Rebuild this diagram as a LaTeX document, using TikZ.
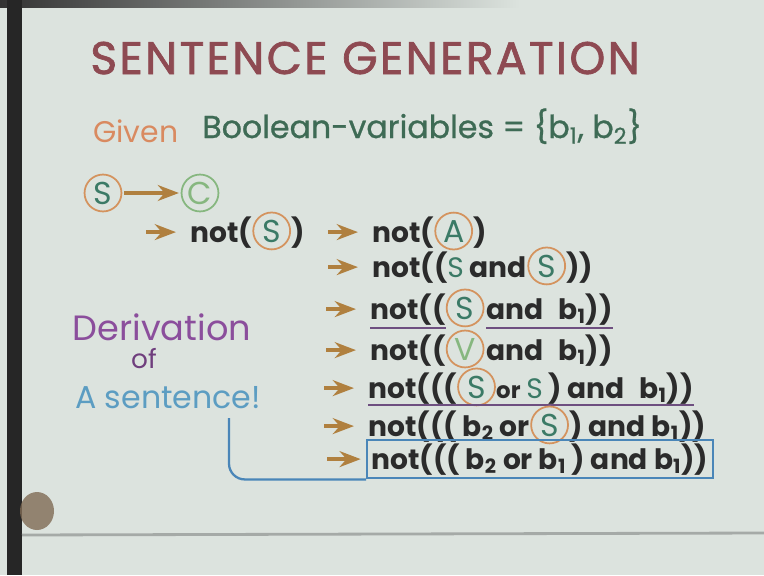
\documentclass[tikz,border=0pt]{standalone}
\usepackage{fontspec}
\setmainfont{Poppins}
\usetikzlibrary{arrows.meta, positioning}
\definecolor{board}{HTML}{DCE3DE}
\definecolor{titlered}{HTML}{8E4A52}
\definecolor{givenorange}{HTML}{D98A60}
\definecolor{boolgreen}{HTML}{3E6B55}
\definecolor{ring}{HTML}{D4935E}
\definecolor{varteal}{HTML}{3B7A66}
\definecolor{lightgreen}{HTML}{86B77F}
\definecolor{arrowbrown}{HTML}{B0803F}
\definecolor{ink}{HTML}{2B2B2B}
\definecolor{underpurple}{HTML}{6E4F80}
\definecolor{derivpurple}{HTML}{8B4E9C}
\definecolor{sentblue}{HTML}{5C9DC2}
\definecolor{boxblue}{HTML}{4A86B8}
\newcommand{\fs}[1]{\fontsize{#1}{#1}\selectfont}
\newcommand{\bsub}[1]{b\textsubscript{#1}}
\newcommand{\tvar}[1]{\textcolor{varteal}{\mdseries #1}}

\begin{document}
\begin{tikzpicture}[
	x=0.02cm, y=-0.02cm,
	>=Stealth,
	heading/.style={anchor=base west, inner sep=0pt, text=titlered,
		font=\fs{26}\addfontfeature{LetterSpace=5, FakeBold=1.5}},
	handtext/.style={anchor=base west, inner sep=0pt, font=\fs{18}\addfontfeature{FakeBold=0.8}},
	row/.style={anchor=base west, inner sep=0pt, text=ink, font=\fs{16}\bfseries},
	varring/.style={circle, draw=ring, line width=1pt, minimum size=21pt, inner sep=0pt,
		text=varteal, font=\fs{18}},
	derive/.style={->, arrowbrown, line width=2pt, shorten >=8pt},
	uline/.style={underpurple, line width=1.2pt},
	remark/.style={anchor=base, inner sep=0pt, font=\fs{19}\addfontfeature{FakeBold=0.8}},
	link/.style={boxblue, line width=1.3pt, rounded corners=9pt}
	]
	
	% ==========================================
	% THE BOARD
	% ==========================================
	\useasboundingbox (0,0) rectangle (764,575);
	\fill[board] (0,0) rectangle (764,575);
	\shade[left color=black!80, right color=board] (0,0) rectangle (520,7);
	\fill[black!85] (7,0) rectangle (22,575);
	\draw[line width=1.6pt, black!25!board] (22,535) -- (764,533);
	% thumb at the edge of the board
	\fill[brown!45!black!75, opacity=.8] (37,511) ellipse (17 and 19);
	
	% ==========================================
	% TITLE AND GIVEN VARIABLES
	% ==========================================
	\node[heading] (title) at (90,74) {SENTENCE GENERATION};
	\node[handtext, text=givenorange, font=\fs{17}] (given) at (93,142) {Given};
	\node[handtext, text=boolgreen] (vars) at (202,138)
	{Boolean-variables = \{\bsub{1}, \bsub{2}\}};
	
	% ==========================================
	% FIRST PRODUCTIONS
	% ==========================================
	\node[varring] (startS) at (103,193) {S};
	\node[varring, draw=lightgreen, text=lightgreen] (startC) at (200,193) {C};
	\draw[derive, shorten >=1pt, shorten <=1pt] (startS) -- (startC);
	
	% S -> not(S)
	\node[row] (r0a) at (190,242) {not(};
	\node[varring, base right=0pt of r0a] (r0b) {S};
	\node[row, base right=0pt of r0b] (r0c) {)};
	\coordinate[left=25pt of r0a.west] (a0);
	\draw[derive] (a0) -- (r0a.west);
	
	% not(S) -> not(A)
	\node[row] (r1a) at (372,242) {not(};
	\node[varring, text=varteal, base right=0pt of r1a] (r1b) {A};
	\node[row, base right=0pt of r1b] (r1c) {)};
	\draw[derive, shorten <=13pt] (r0c) -- (r1a);
	
	% ==========================================
	% DERIVATION STEPS
	% ==========================================
	
	% not((S and S))
	\node[row] (r2a) at (372,277) {not((\tvar{S} and};
	\node[varring, base right=0pt of r2a] (r2b) {S};
	\node[row, base right=0pt of r2b] (r2c) {))};
	\coordinate[left=25pt of r2a.west] (a2);
	\draw[derive] (a2) -- (r2a.west);
	
	% not((S and b1))
	\node[row] (r3a) at (370,319) {not((};
	\node[varring, base right=0pt of r3a] (r3b) {S};
	\node[row, base right=1pt of r3b] (r3c) {and\hspace{5pt} \bsub{1}))};
	\coordinate[left=25pt of r3a.west] (a3);
	\draw[derive] (a3) -- (r3a.west);
	\draw[uline] ([yshift=-5pt]r3a.base west) -- ([yshift=-5pt]r3a.base east);
	\draw[uline] ([yshift=-5pt]r3c.base west) -- ([yshift=-5pt]r3c.base east);
	
	% not((V and b1))
	\node[row] (r4a) at (370,360) {not((};
	\node[varring, text=lightgreen, base right=0pt of r4a] (r4b) {V};
	\node[row, base right=1pt of r4b] (r4c) {and\hspace{5pt} \bsub{1}))};
	\coordinate[left=25pt of r4a.west] (a4);
	\draw[derive] (a4) -- (r4a.west);
	
	% not(((S or S) and b1))
	\node[row] (r5a) at (368,398) {not(((};
	\node[varring, base right=0pt of r5a] (r5b) {S};
	\node[row, base right=0pt of r5b] (r5c) {{\fs{13}or} \tvar{S}\hspace{3pt}) and\hspace{5pt} \bsub{1}))};
	\coordinate[left=25pt of r5a.west] (a5);
	\draw[derive] (a5) -- (r5a.west);
	\draw[uline] ([yshift=-4pt]r5a.base west) -- ([yshift=-4pt]r5c.base east);
	
	% not(((b2 or S) and b1))
	\node[row] (r6a) at (368,436) {not((( \bsub{2} or};
	\node[varring, base right=0pt of r6a] (r6b) {S};
	\node[row, base right=0pt of r6b] (r6c) {) and \bsub{1}))};
	\coordinate[left=25pt of r6a.west] (a6);
	\draw[derive] (a6) -- (r6a.west);
	
	% the sentence, boxed
	\node[row, draw=boxblue, line width=1.2pt, inner xsep=2.5pt, inner ysep=2pt] (r7) at (366,469)
	{not((( \bsub{2} or \bsub{1}\hspace{3pt}) and \bsub{1}))};
	\coordinate[left=22pt of r7.west] (a7);
	\draw[derive, shorten >=3pt] (a7) -- (r7.west);
	
	% ==========================================
	% SIDE REMARK
	% ==========================================
	\node[remark, text=derivpurple, font=\fs{20}] (deriv) at (162,340) {Derivation};
	\node[remark, text=derivpurple!80!black, font=\fs{15}] (of) at (144,368) {of};
	\node[remark, text=sentblue, font=\fs{18}] (sent) at (168,408) {A sentence!};
	\coordinate (hook) at (229,418);
	\draw[link] (hook) -- (hook |- r7.south) -- (r7.south west);
\end{tikzpicture}
\end{document}
